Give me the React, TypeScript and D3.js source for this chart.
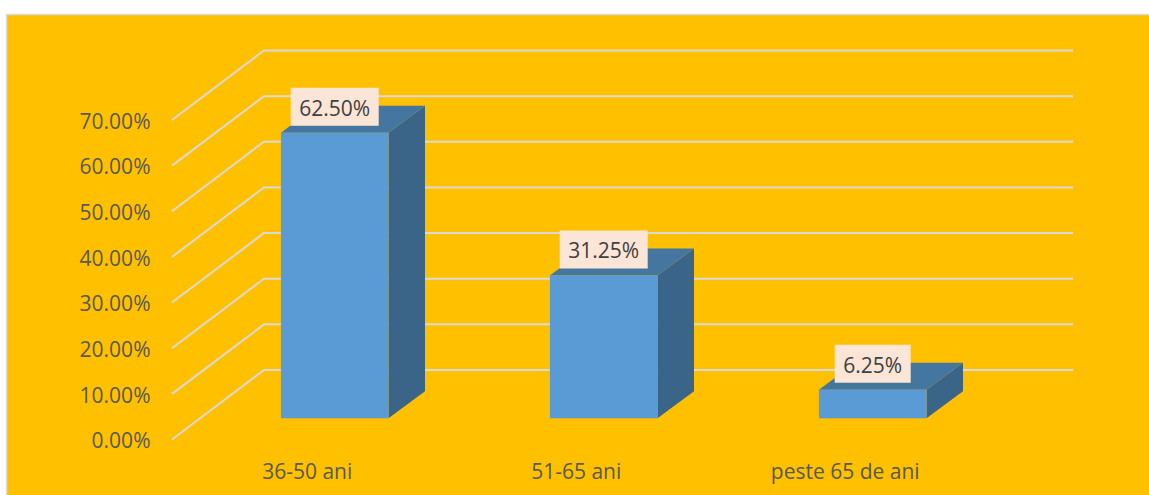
import React from "react";
import * as d3 from "d3";

const categories = ["36-50 ani", "51-65 ani", "peste 65 de ani"];
const values = [62.5, 31.25, 6.25];
const valueLabels = ["62.50%", "31.25%", "6.25%"];
const tickValues = [0, 10, 20, 30, 40, 50, 60, 70];

const W = 1149;
const H = 495;
const FONT = "'Open Sans', 'Noto Sans', sans-serif";
const FS = 21;
const depthX = 92;
const depthY = 69.5;
const barDX = 36.5;
const barDY = 27;

const yFront = d3.scaleLinear().domain([0, 70]).range([439.5, 120]);
const yBar = d3.scaleLinear().domain([0, 70]).range([418.3, 98.5]);
const x = d3.scaleBand<string>().domain(categories).range([200.2, 1007.2]).paddingInner(0.6).paddingOuter(0.3);
const poly = d3.line<[number, number]>();

export default function App() {
  return (
    <svg width={W} height={H} style={{ position: "absolute", left: 0, top: 0, display: "block" }} fontFamily={FONT}>
      <rect x={0} y={0} width={W} height={H} fill="#ffffff" />
      <rect x={6.5} y={14.5} width={W} height={H} fill="#FFC000" stroke="#D9D9D9" strokeWidth={1.5} />
      {tickValues.map((t) => {
        const y0 = yFront(t);
        const pts: [number, number][] = [[172, y0], [172 + depthX, y0 - depthY], [1073, y0 - depthY]];
        return (
          <g key={t}>
            <path d={poly(pts) ?? ""} fill="none" stroke="#D9D9D9" strokeWidth={2} />
            <text x={150.5} y={y0 + 8.8} textAnchor="end" fontSize={FS} fill="#595959">
              {d3.format(".2f")(t)}%
            </text>
          </g>
        );
      })}
      {categories.map((c, i) => {
        const x0 = x(c) ?? 0;
        const x1 = x0 + x.bandwidth();
        const yb = yBar(0);
        const yt = yBar(values[i]);
        const cx = (x0 + x1) / 2;
        const label = valueLabels[i];
        const bw = label.length > 5 ? 88 : 76;
        return (
          <g key={c}>
            <path d={(poly([[x1, yt], [x1 + barDX, yt - barDY], [x1 + barDX, yb - barDY], [x1, yb]]) ?? "") + "Z"} fill="#3A6488" />
            <path d={(poly([[x0, yt], [x0 + barDX, yt - barDY], [x1 + barDX, yt - barDY], [x1, yt]]) ?? "") + "Z"} fill="#45769F" />
            <rect x={x0} y={yt} width={x.bandwidth()} height={yb - yt} fill="#5B9BD5" />
            <rect x={cx - bw / 2} y={yt - 45} width={bw} height={38} fill="#FBE5D6" />
            <text x={cx} y={yt - 17.2} textAnchor="middle" fontSize={FS} fill="#404040">{label}</text>
            <text x={cx - 27.5} y={479} textAnchor="middle" fontSize={FS} fill="#595959">{c}</text>
          </g>
        );
      })}
    </svg>
  );
}
